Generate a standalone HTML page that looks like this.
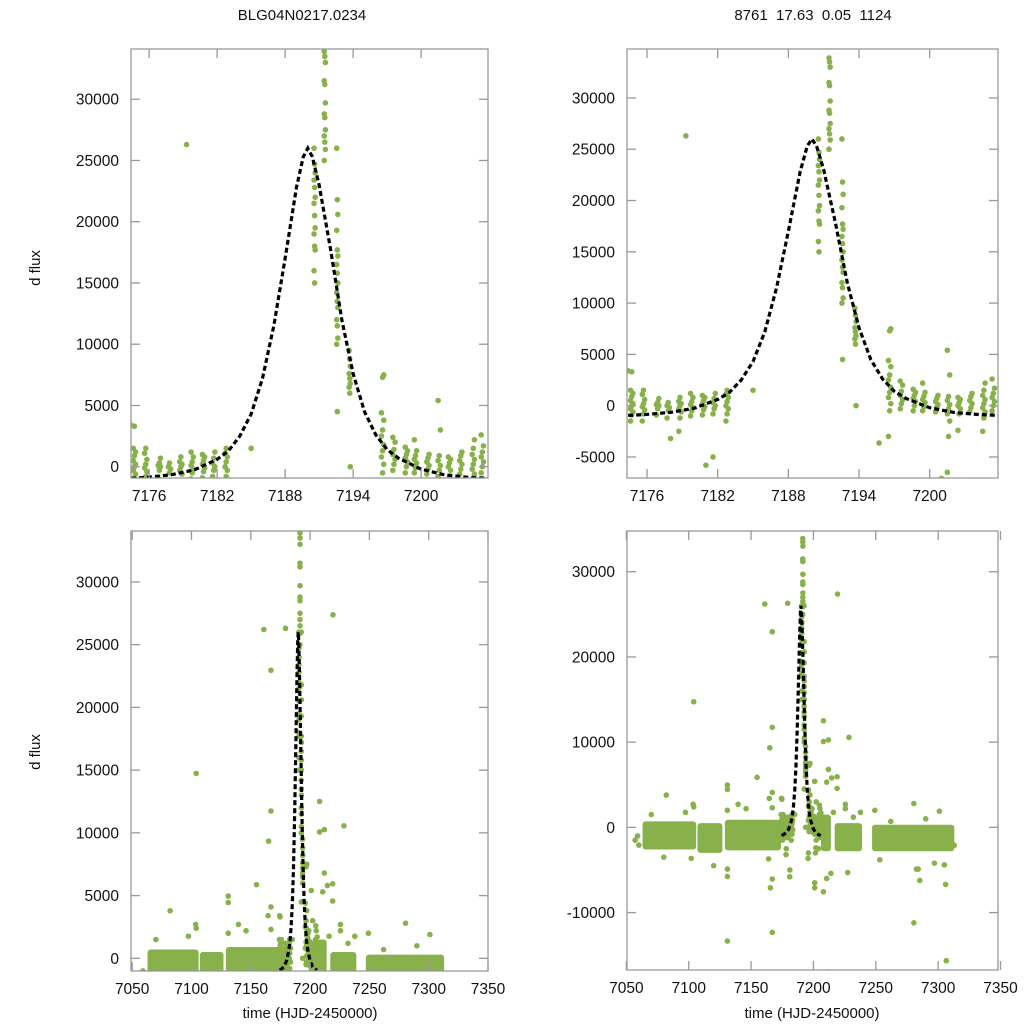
<!DOCTYPE html>
<html><head><meta charset="utf-8">
<style>
html,body{margin:0;padding:0;background:#fff;width:1024px;height:1024px;overflow:hidden;}
svg{display:block;position:absolute;left:0;top:0;font-family:"Liberation Sans",Arial,sans-serif;}
</style></head>
<body>
<svg id="fig" width="1024" height="1024" viewBox="0 0 1024 1024">
<rect x="0" y="0" width="1024" height="1024" fill="#fff"/>
<text x="302" y="20" font-size="15" text-anchor="middle" fill="#111">BLG04N0217.0234</text>
<text x="813" y="20" font-size="15" text-anchor="middle" fill="#111" xml:space="preserve">8761  17.63  0.05  1124</text>
<text transform="translate(40,268) rotate(-90)" font-size="15" text-anchor="middle" fill="#111">d flux</text>
<text transform="translate(40,752) rotate(-90)" font-size="15" text-anchor="middle" fill="#111">d flux</text>
<text x="310" y="1018" font-size="15" text-anchor="middle" fill="#111">time (HJD-2450000)</text>
<text x="812" y="1018" font-size="15" text-anchor="middle" fill="#111">time (HJD-2450000)</text>
</svg>
<script>
// ---- model curve (sampled) ----
const curveT = [7174.4,7176,7178,7180,7182,7183,7184,7185,7186,7187,7188,7189,7189.6,7190,7190.4,7191,7192,7193,7194,7195,7196,7197,7198,7200,7202,7204,7205.9];
const curveF = [-950,-850,-650,-250,600,1300,2500,4300,7200,11500,17000,22800,25300,26000,25300,23000,17800,12000,7600,4500,2600,1400,700,-200,-650,-850,-950];
// ---- nightly baseline measurements near the event ----
const nightT = [7174.7,7175.7,7176.9,7177.8,7178.8,7179.8,7180.8,7181.7,7182.8,7196.6,7197.6,7198.7,7199.5,7200.6,7201.6,7202.5,7203.5,7204.6,7205.4];
const nightVals = [
 [-1500,-900,-600,-300,0,200,500,900,1200,1500,3300],
 [-1500,-800,-400,-100,200,600,1100,1500],
 [-900,-300,0,100,300,700],
 [-1200,-500,-200,0,300],
 [-2500,-1200,-600,-300,0,200,400,800],
 [-1000,-500,-200,100,400,800,1200],
 [-900,-400,-100,200,500,800,1000],
 [-800,-300,0,300,700,1200,-5000],
 [-1500,-800,-300,0,400,800,1100,1500],
 [-3000,-500,200,800,1300,1800,2500,3000,3800,4400,7300,7500],
 [-300,200,600,1000,1400,2000,2400],
 [-500,0,400,700,1000,1300,1600],
 [-500,-100,300,600,900,1300,2200],
 [-600,-200,100,400,700,1000],
 [-6500,-3000,-1500,-800,-300,100,500,900,3000,5400],
 [-2400,-800,-300,0,300,600,800],
 [-600,-200,200,500,900,1200],
 [-2500,-1200,-600,-200,200,600,1000,1500,2200],
 [-500,0,400,800,1200,1700,2600]
];
// ---- event-night measurements ----
const eventT = [7190.6,7191.5,7192.6,7193.7];
const eventVals = [
 [26000,24700,24000,23400,22800,22000,21500,20500,19500,19000,18000,17700,16000,15000],
 [33900,33500,33000,31500,31200,29700,28800,28500,27500,27000,26500,25900,25000],
 [26000,21800,20600,19300,17700,17200,16500,15800,15000,14200,13500,13000,12000,11500,10500,10000,4500],
 [9500,8800,8200,7600,7200,6800,6500,6000,0]
];
// ---- isolated measurements across the season ----
const ptT = [7060,7082,7097.4,7103.5,7104,7104,7102,7080,7131,7131,7131,7131,7131,7131,7139.6,7146,7154.8,7151,7161,7164.6,7165,7167,7167,7167,7167,7165.5,7167,7167,7164,7179.3,7174.4,7181,7178,7195.7,7201,7208,7208,7208,7212,7210.6,7214.6,7212,7210.6,7214,7212,7219,7219,7219.3,7216,7225.6,7225.6,7228.5,7227.5,7237.7,7249.2,7253.2,7280.5,7280.5,7282.6,7285.3,7284,7297,7301,7305,7306,7306.5,7313,7057,7059,7070,7120,7185,7232,7262,7290];
const ptF = [-2080,3790,1760,2700,2400,14740,-3640,-3500,4960,4450,2000,-4900,-5760,-13340,2700,2200,5870,-2100,26210,3400,9340,11740,22960,4100,2300,-7090,-6070,-12320,-3700,26300,3400,-5800,-3200,-3640,-7090,-7560,12510,10070,10260,5300,5800,6800,-6000,-5400,-16950,5940,4570,27380,1760,2700,2200,10560,-5300,1760,2000,-3800,2800,-11200,-4900,-6230,-4900,-4200,1900,-4400,-6700,-15650,-2100,-1500,-1000,1500,-4500,1500,1200,700,1000];
// ---- dense baseline bands (season segments) ----
const bandStart = [7063,7107,7129,7206,7217,7247];
const bandEnd   = [7106,7127,7174,7214,7239,7313];
const bandLo    = [-2600,-3000,-2700,-2800,-2800,-2800];
const bandHi    = [700,500,900,1500,500,300];

const yTicksA = [0,5000,10000,15000,20000,25000,30000];
const yTicksB = [-5000,0,5000,10000,15000,20000,25000,30000];
const yTicksC = [-10000,0,10000,20000,30000];
const xTicksZoom = [7176,7182,7188,7194,7200];
const xTicksWide = [7050,7100,7150,7200,7250,7300,7350];

const NS = "http://www.w3.org/2000/svg";
const svg = document.getElementById('fig');
const GREEN = "#88b04b";

function mk(tag, attrs, parent){
  const e = document.createElementNS(NS, tag);
  for (const k in attrs) e.setAttribute(k, attrs[k]);
  (parent||svg).appendChild(e);
  return e;
}

const panels = [
 {id:'tl', x0:131,x1:488,y0:49,y1:478, tmin:7174.4,tmax:7205.9, fmin:-920,fmax:34100, yt:yTicksA, xt:xTicksZoom, wide:false},
 {id:'tr', x0:627,x1:998,y0:49,y1:478, tmin:7174.3,tmax:7205.8, fmin:-7050,fmax:34770, yt:yTicksB, xt:xTicksZoom, wide:false},
 {id:'bl', x0:131,x1:488,y0:531,y1:971, tmin:7049,tmax:7350, fmin:-1010,fmax:34060, yt:yTicksA, xt:xTicksWide, wide:true},
 {id:'br', x0:627,x1:998,y0:531,y1:970, tmin:7050.5,tmax:7348, fmin:-16740,fmax:34780, yt:yTicksC, xt:xTicksWide, wide:true}
];

panels.forEach(p => {
  const X = t => p.x0 + (t - p.tmin)/(p.tmax - p.tmin)*(p.x1 - p.x0);
  const Y = v => p.y1 - (v - p.fmin)/(p.fmax - p.fmin)*(p.y1 - p.y0);
  const g = mk('g', {});
  
  
  const cp = mk('clipPath', {id:'clip-'+p.id}, g);
  mk('rect', {x:p.x0, y:p.y0, width:p.x1-p.x0, height:p.y1-p.y0}, cp);
  const data = mk('g', {'clip-path':'url(#clip-'+p.id+')'}, g);
  
  
  const r = 2.8;
  if (p.wide) {
    for (let i=0;i<bandStart.length;i++){
      const b = mk('rect', {x:X(bandStart[i]), y:Y(bandHi[i]), width:X(bandEnd[i])-X(bandStart[i]), height:Y(bandLo[i])-Y(bandHi[i]), fill:GREEN, rx:3}, data);
      
      
    }
  }
  const spread = p.wide ? 0.6 : 0.1;
  nightT.forEach((t,i) => {
    nightVals[i].forEach((v,j) => {
      const c = mk('circle', {cx:X(t + ((j%3)-1)*spread), cy:Y(v), r:r, fill:GREEN}, data);
      
      
    });
  });
  eventT.forEach((t,i) => {
    eventVals[i].forEach((v,j) => {
      const c = mk('circle', {cx:X(t + ((j%3)-1)*0.05), cy:Y(v), r:r, fill:GREEN}, data);
      
      
    });
  });
  ptT.forEach((t,i) => {
    const c = mk('circle', {cx:X(t), cy:Y(ptF[i]), r:r, fill:GREEN}, data);
    
    
  });
  const d = curveT.map((t,i) => (i?'L':'M') + X(t).toFixed(2) + ' ' + Y(curveF[i]).toFixed(2)).join(' ');
  const path = mk('path', {d:d, fill:'none', stroke:'#000', 'stroke-width':3.2, 'stroke-dasharray':'5 3'}, data);
  
  
  const fr = mk('rect', {x:p.x0, y:p.y0, width:p.x1-p.x0, height:p.y1-p.y0, fill:'none', stroke:'#999', 'stroke-width':1.3}, g);
  
  
  p.yt.forEach(v => {
    const y = Y(v);
    mk('line', {x1:p.x0, x2:p.x0+9, y1:y, y2:y, stroke:'#999', 'stroke-width':1.3}, g);
    mk('line', {x1:p.x1, x2:p.x1-9, y1:y, y2:y, stroke:'#999', 'stroke-width':1.3}, g);
    const tx = mk('text', {x:p.x0-12, y:y+5.5, 'font-size':15.5, 'text-anchor':'end', fill:'#111'}, g);
    tx.textContent = v;
    
    
  });
  p.xt.forEach(t => {
    const x = X(t);
    mk('line', {x1:x, x2:x, y1:p.y1, y2:p.y1-9, stroke:'#999', 'stroke-width':1.3}, g);
    mk('line', {x1:x, x2:x, y1:p.y0, y2:p.y0+9, stroke:'#999', 'stroke-width':1.3}, g);
    const tx = mk('text', {x:x, y:p.y1+23, 'font-size':15.5, 'text-anchor':'middle', fill:'#111'}, g);
    tx.textContent = t;
    
    
  });
});
</script>
</body></html>
